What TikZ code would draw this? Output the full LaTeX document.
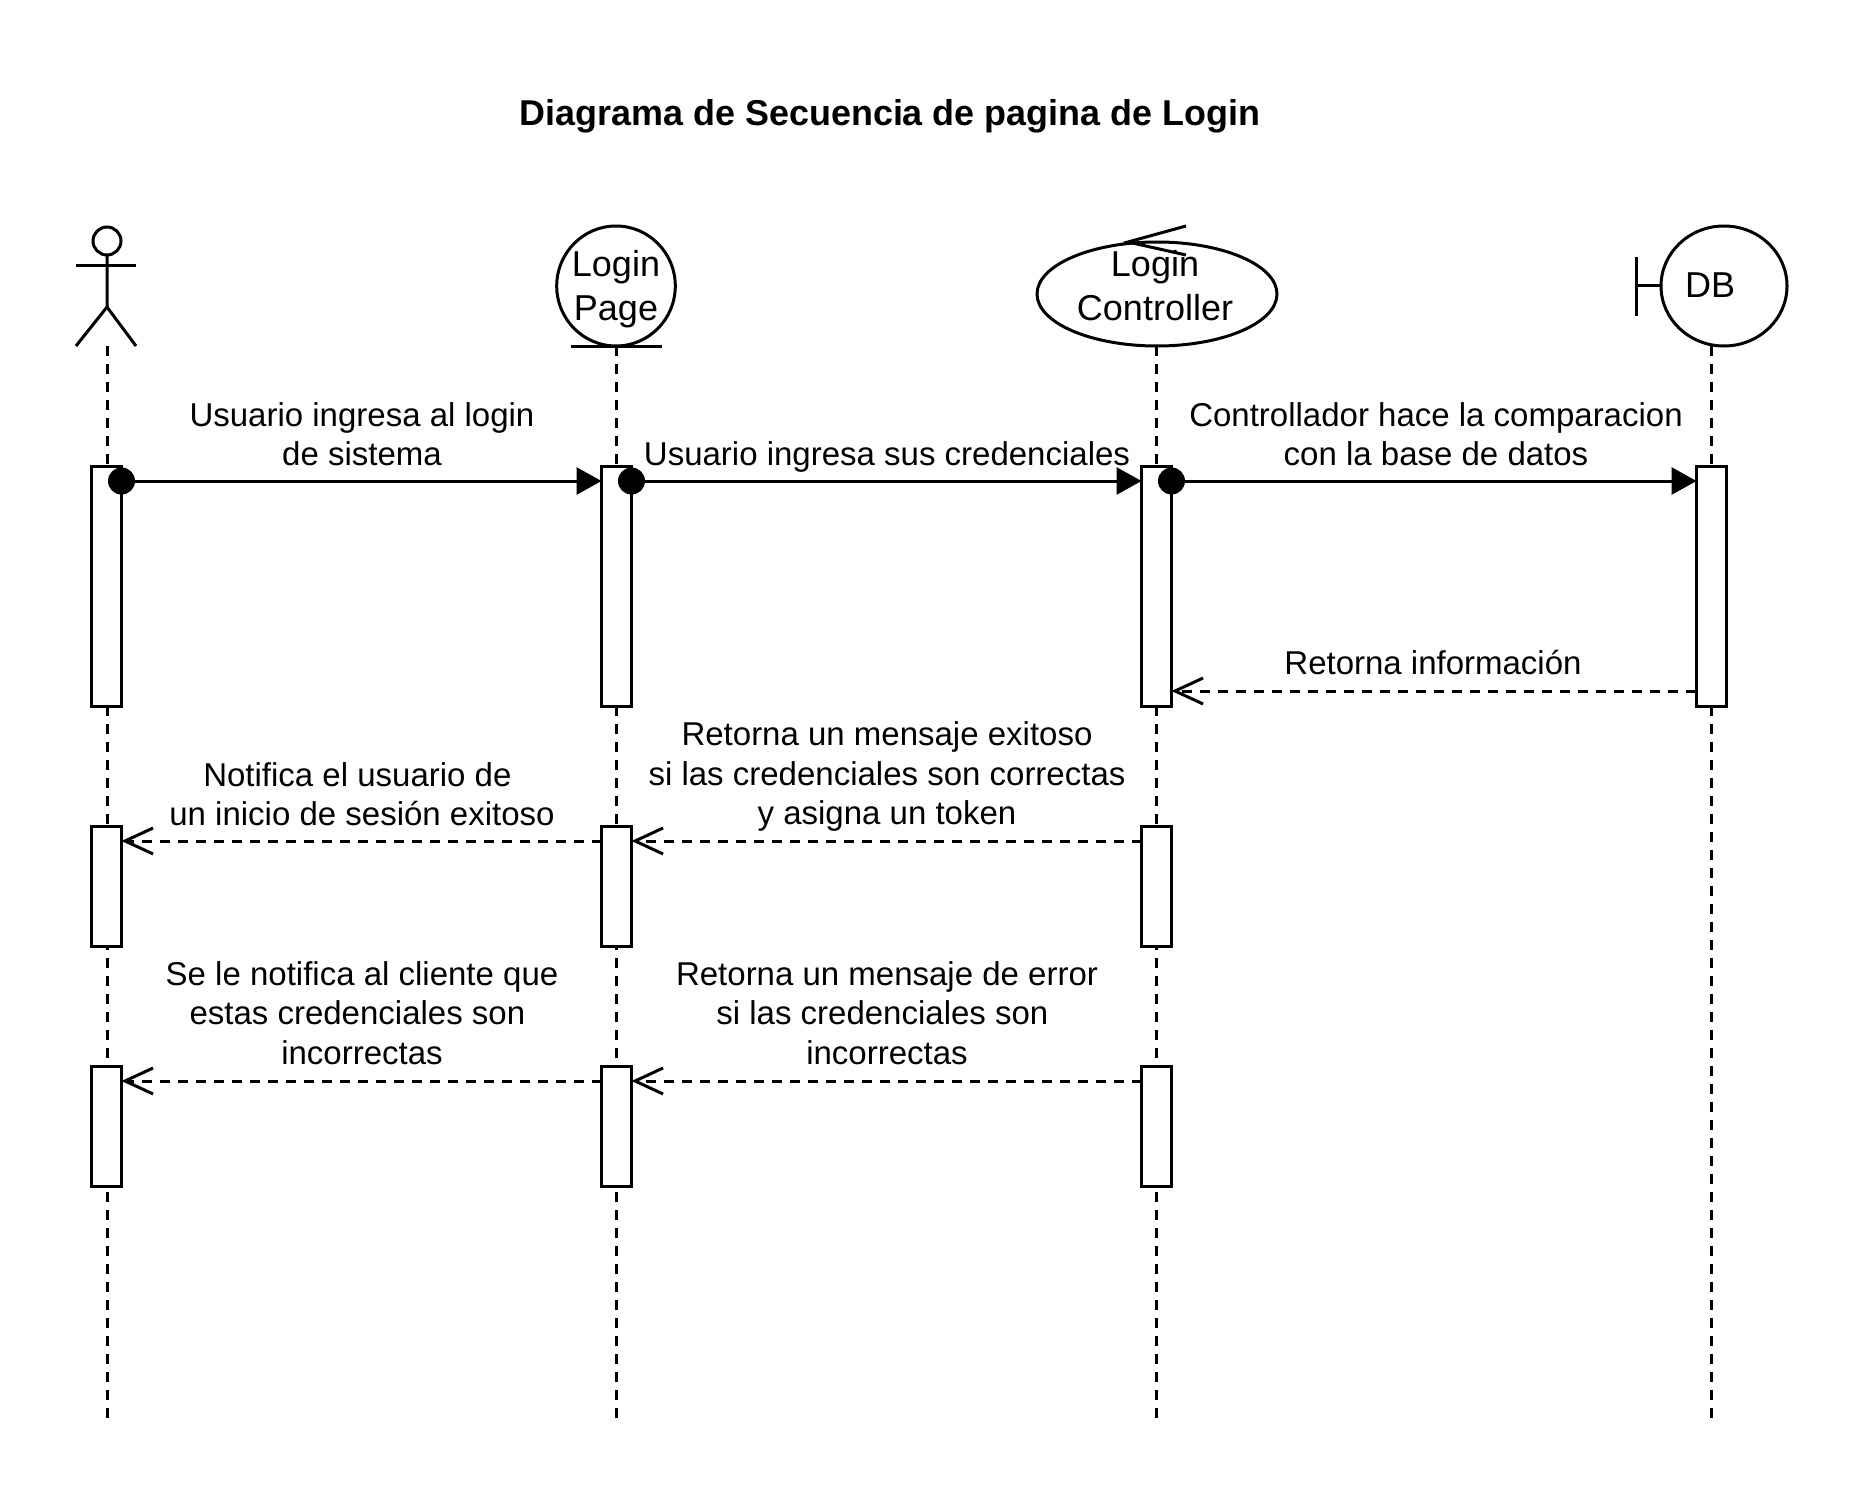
\documentclass[tikz,border=0pt]{standalone}
\usepackage{fontspec}
\setmainfont{Liberation Sans}
\usetikzlibrary{arrows.meta,shapes.geometric}
\newcommand\trailsp{\kern.28em}
\tikzset{
  head/.style={draw,ellipse,inner sep=0pt,outer sep=0pt},
  headtext/.style={font=\fontsize{18}{22}\selectfont,align=center,inner sep=0pt},
  lifeline/.style={dash pattern=on 5pt off 4pt},
  bar/.style={draw,fill=white,rectangle,inner sep=0pt,outer sep=0pt,minimum width=15pt},
  dot/.style={circle,fill=black,inner sep=0pt,outer sep=0pt,minimum size=13.5pt},
  msg/.style={font=\fontsize{16.5}{19.6}\selectfont,align=center,inner sep=0pt},
  sync/.style={-{Triangle[length=12.5pt,width=13.5pt]}},
  ret/.style={dash pattern=on 5pt off 4pt,-{Straight Barb[length=14pt,width=13pt]}},
}
\begin{document}
\begin{tikzpicture}[x=0.5pt,y=-0.5pt,line width=1.5pt]
\useasboundingbox (0,0) rectangle (1863,1503);
\node[font=\fontsize{17.95}{22}\selectfont\bfseries] (title) at (890,116.5) {Diagrama de Secuencia de pagina de Login};
% actor
\node[draw,circle,inner sep=0pt,outer sep=0pt,minimum size=14pt] (userHead) at (107,241) {};
\coordinate (userHip) at (107,307);
\coordinate (userFoot) at (107,346);
\draw (userHead.south)--(userHip)--(76,346);
\draw (userHip)--(136,346);
\draw (76,266)--(136,266);
% heads
\node[head,minimum width=59.3pt,minimum height=60pt] (pageHead) at (616,286) {};
\node[headtext] (pageText) at (616,289.5) {Login\\Page};
\coordinate (pageFoot) at (616,346);
\draw (571,346)--(662,346);
\node[head,minimum width=120pt,minimum height=52pt] (ctrlHead) at (1157,294) {};
\node[headtext] (ctrlText) at (1155,285.5) {Login\\Controller};
\coordinate (ctrlTip) at (1128,242);
\coordinate (ctrlFoot) at (1156,346);
\draw (1186,226)--(ctrlTip)--(1186,255);
\node[head,minimum width=63pt,minimum height=60pt] (dbHead) at (1724,286) {};
\node[headtext] (dbText) at (1710,285) {DB};
\coordinate (dbBar) at (1636,286);
\draw (1636,257)--(1636,316);
\draw (dbBar)--(dbHead.west);
\coordinate (dbFoot) at (1711,346);
% lifelines
\coordinate (userEnd) at (107,1418);
\coordinate (pageEnd) at (616,1418);
\coordinate (ctrlEnd) at (1156,1418);
\coordinate (dbEnd) at (1711,1418);
\draw[lifeline] (userFoot)--(userEnd);
\draw[lifeline] (pageFoot)--(pageEnd);
\draw[lifeline] (ctrlFoot)--(ctrlEnd);
\draw[lifeline] (dbFoot)--(dbEnd);
% activations
\foreach \name/\px in {user/106.5,page/616.5,ctrl/1156.5}{
  \node[bar,minimum height=120pt] (\name A) at (\px,586) {};
  \node[bar,minimum height=60pt] (\name B) at (\px,886) {};
  \node[bar,minimum height=60pt] (\name C) at (\px,1126) {};
}
\node[bar,minimum height=120pt] (dbA) at (1711.5,586) {};
% messages
\node[dot] (dotU) at (121.5,481) {};
\node[dot] (dotP) at (631.5,481) {};
\node[dot] (dotC) at (1171.5,481) {};
\draw[sync] (dotU)--(pageA.west |- dotU);
\draw[sync] (dotP)--(ctrlA.west |- dotP);
\draw[sync] (dotC)--(dbA.west |- dotC);
\coordinate (retDb) at (1696,691);
\draw[ret] (retDb)--(ctrlA.east |- retDb);
\coordinate (okY) at (0,841);
\draw[ret] (ctrlB.west |- okY)--(pageB.east |- okY);
\draw[ret] (pageB.west |- okY)--(userB.east |- okY);
\coordinate (errY) at (0,1081);
\draw[ret] (ctrlC.west |- errY)--(pageC.east |- errY);
\draw[ret] (pageC.west |- errY)--(userC.east |- errY);
% labels
\node[msg] (lblA) at (362,434) {Usuario ingresa al login\\de sistema};
\node[msg] (lblB) at (887,457) {Usuario ingresa sus credenciales};
\node[msg] (lblC) at (1436,434) {Controllador hace la comparacion\\con la base de datos};
\node[msg] (lblD) at (1433,663) {Retorna información};
\node[msg] (lblE) at (887,776.5) {Retorna un mensaje exitoso\\si las credenciales son correctas\\y asigna un token};
\node[msg] (lblF) at (362,794) {Notifica el usuario de\trailsp\\un inicio de sesión exitoso};
\node[msg] (lblG) at (362,1013) {Se le notifica al cliente que\\estas credenciales son\trailsp\\incorrectas};
\node[msg] (lblH) at (887,1013) {Retorna un mensaje de error\\si las credenciales son\trailsp\\incorrectas};
\end{tikzpicture}
\end{document}
